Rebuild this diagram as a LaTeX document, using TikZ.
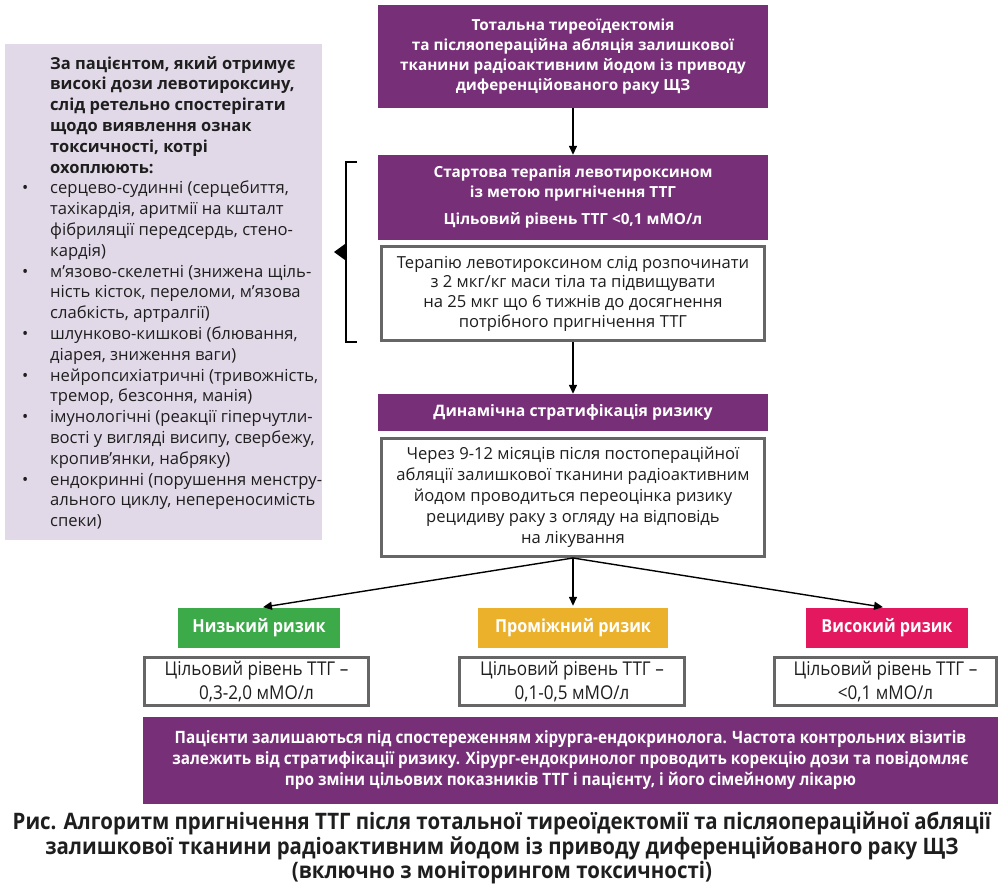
\documentclass[tikz,border=0pt]{standalone}
\usepackage{fontspec}
\setmainfont{Open Sans}
\newfontfamily\condf[FakeStretch=0.9]{Open Sans}
\usetikzlibrary{arrows.meta}
\definecolor{purp}{HTML}{772F78}
\definecolor{lav}{HTML}{E2D9E8}
\definecolor{grn}{HTML}{3DAA4A}
\definecolor{ylw}{HTML}{EBB12A}
\definecolor{pnk}{HTML}{E3185F}
\definecolor{brd}{HTML}{666666}
\definecolor{txt}{HTML}{1E1E1E}
\begin{document}
\begin{tikzpicture}[x=1pt,y=-1pt,
  pbox/.style={fill=purp,draw=none,text=white,inner sep=0pt,align=center,font=\bfseries\fontsize{15.3}{20}\selectfont},
  wbox/.style={fill=white,draw=brd,line width=3pt,text=txt,inner sep=0pt,align=center,font=\fontsize{16.6}{19.7}\selectfont},
  rbox/.style={draw=none,text=white,inner sep=0pt,align=center,font=\condf\bfseries\fontsize{18}{20}\selectfont},
  vbox/.style={fill=white,draw=brd,line width=3pt,text=txt,inner sep=0pt,align=center,font=\condf\fontsize{19}{24}\selectfont},
  hdr/.style={font=\bfseries\fontsize{16.5}{20.8}\selectfont},
  arr/.style={line width=1.4pt,-{Triangle[length=9pt,width=8pt]}}]
\useasboundingbox (0,0) rectangle (1005,892);
% side panel
\node[fill=lav,draw=none,minimum width=317pt,minimum height=496pt,inner sep=0pt,anchor=north west] (side) at (5,44) {};
\node[anchor=north west,inner sep=0pt,align=left,text=txt,font=\fontsize{16.6}{20.8}\selectfont] (sidetext) at (50,56) {%
{\bfseries\fontsize{16.5}{20.8}\selectfont За пацієнтом, який отримує}\\
{\bfseries\fontsize{16.5}{20.8}\selectfont високі дози левотироксину,}\\
{\bfseries\fontsize{16.5}{20.8}\selectfont слід ретельно спостерігати}\\
{\bfseries\fontsize{16.5}{20.8}\selectfont щодо виявлення ознак}\\
{\bfseries\fontsize{16.5}{20.8}\selectfont токсичності, котрі}\\
{\bfseries\fontsize{16.5}{20.8}\selectfont охоплюють:}\\
\llap{\makebox[28pt][l]{•}}серцево-судинні (серцебиття,\\
тахікардія, аритмії на кшталт\\
фібриляції передсердь, стено-\\
кардія)\\
\llap{\makebox[28pt][l]{•}}м’язово-скелетні (знижена щіль-\\
ність кісток, переломи, м’язова\\
слабкість, артралгії)\\
\llap{\makebox[28pt][l]{•}}шлунково-кишкові (блювання,\\
діарея, зниження ваги)\\
\llap{\makebox[28pt][l]{•}}нейропсихіатричні (тривожність,\\
тремор, безсоння, манія)\\
\llap{\makebox[28pt][l]{•}}імунологічні (реакції гіперчутли-\\
вості у вигляді висипу, свербежу,\\
кропив’янки, набряку)\\
\llap{\makebox[28pt][l]{•}}ендокринні (порушення менстру-\\
ального циклу, непереносимість\\
спеки)};
% bracket
\draw[line width=1.5pt] (357,162) -- (346,162) -- (346,342) -- (357,342);
\fill (345,244) -- (345,260) -- (334,252) -- cycle;
% main column
\node[pbox,minimum width=390pt,minimum height=103pt] (top) at (573,56.5) {Тотальна тиреоїдектомія\\та післяопераційна абляція залишкової\\тканини радіоактивним йодом із приводу\\диференційованого раку ЩЗ};
\node[pbox,minimum width=390pt,minimum height=85pt] (start) at (573,197.5) {Стартова терапія левотироксином\\із метою пригнічення ТТГ\\[7pt]Цільовий рівень ТТГ <0,1 мМО/л};
\node[wbox,minimum width=383pt,minimum height=94pt] (dose) at (573,293.5) {Терапію левотироксином слід розпочинати\\з 2 мкг/кг маси тіла та підвищувати\\на 25 мкг що 6 тижнів до досягнення\\потрібного пригнічення ТТГ};
\node[pbox,minimum width=390pt,minimum height=37pt,font=\bfseries\fontsize{15.8}{20}\selectfont] (strat) at (573,412.5) {Динамічна стратифікація ризику};
\node[wbox,minimum width=383pt,minimum height=118pt,font=\fontsize{16.6}{21}\selectfont] (reeval) at (573,497.5) {Через 9-12 місяців після постопераційної\\абляції залишкової тканини радіоактивним\\йодом проводиться переоцінка ризику\\рецидиву раку з огляду на відповідь\\на лікування};
% risk boxes
\node[rbox,fill=grn,minimum width=162pt,minimum height=40pt] (low) at (259,628) {Низький ризик};
\node[rbox,fill=ylw,minimum width=190pt,minimum height=40pt] (mid) at (573,628) {Проміжний ризик};
\node[rbox,fill=pnk,minimum width=162pt,minimum height=40pt] (high) at (887,628) {Високий ризик};
\node[vbox,minimum width=224pt,minimum height=48pt] (lowv) at (256.5,681.5) {Цільовий рівень ТТГ –\\0,3-2,0 мМО/л};
\node[vbox,minimum width=225pt,minimum height=48pt] (midv) at (572,681.5) {Цільовий рівень ТТГ –\\0,1-0,5 мМО/л};
\node[vbox,minimum width=222pt,minimum height=48pt] (highv) at (885.5,681.5) {Цільовий рівень ТТГ –\\<0,1 мМО/л};
% follow-up
\node[pbox,minimum width=855pt,minimum height=87pt,font=\condf\bfseries\fontsize{17}{21}\selectfont] (follow) at (570.5,760.5) {Пацієнти залишаються під спостереженням хірурга-ендокринолога. Частота контрольних візитів\\залежить від стратифікації ризику. Хірург-ендокринолог проводить корекцію дози та повідомляє\\про зміни цільових показників ТТГ і пацієнту, і його сімейному лікарю};
% caption
\node[inner sep=0pt,align=center,text=txt,font=\condf\bfseries\fontsize{22.7}{24.5}\selectfont] (caption) at (502,848) {Рис. Алгоритм пригнічення ТТГ після тотальної тиреоїдектомії та післяопераційної абляції\\залишкової тканини радіоактивним йодом із приводу диференційованого раку ЩЗ\\(включно з моніторингом токсичності)};
% arrows
\draw[arr] (top.south) -- (start.north);
\draw[arr] (dose.south) -- (strat.north);
\draw[arr,shorten >=4pt] (reeval.south) -- (low.north);
\draw[arr,shorten >=2pt] (reeval.south) -- (mid.north);
\draw[arr,shorten >=4pt] (reeval.south) -- (high.north);
\end{tikzpicture}
\end{document}
